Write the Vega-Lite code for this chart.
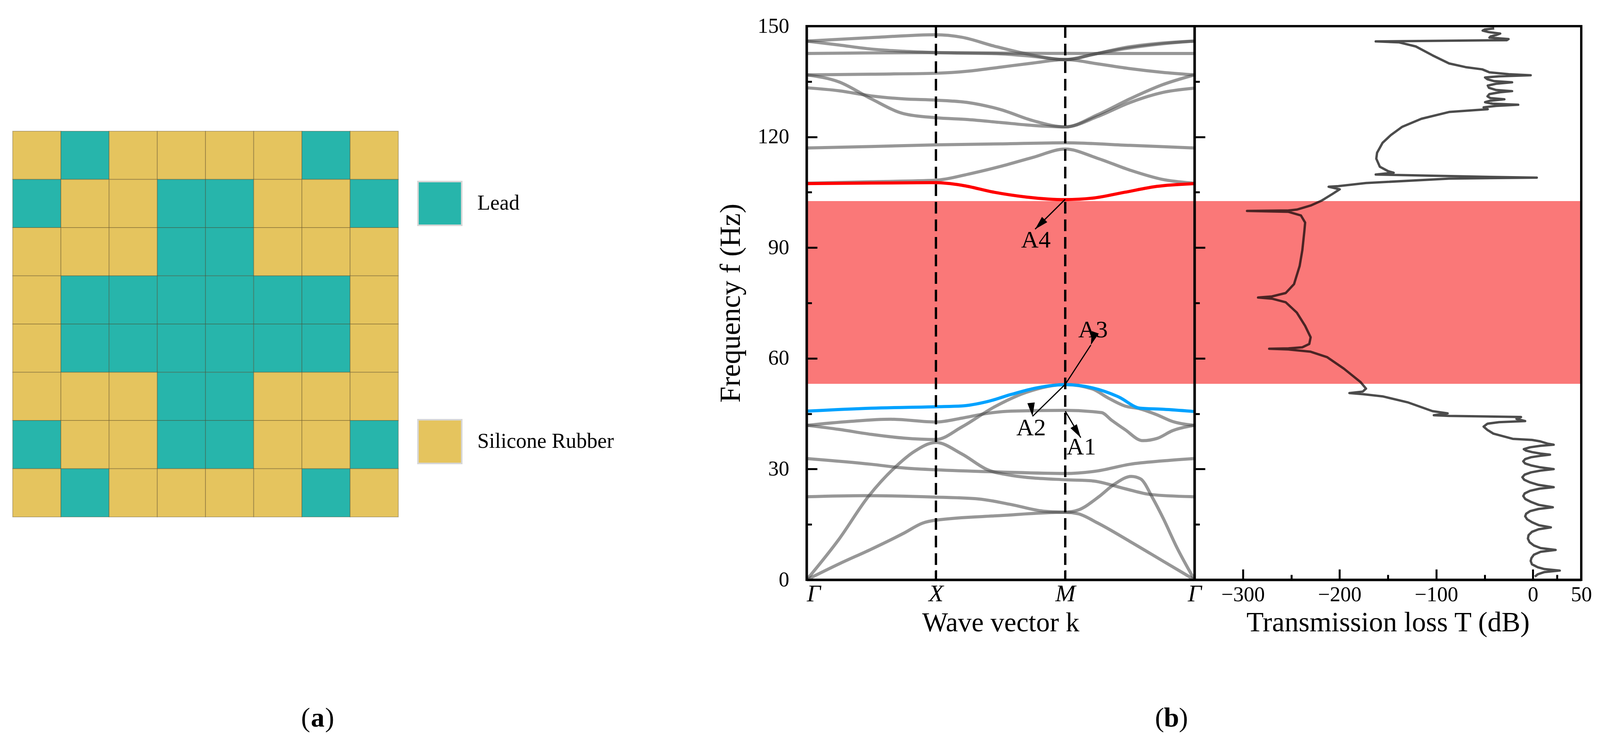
{
  "$schema": "https://vega.github.io/schema/vega-lite/v6.json",
  "padding": {"left": 31, "top": 37, "right": 0, "bottom": 0},
  "background": "white",
  "config": {
    "font": "Liberation Serif",
    "axis": {"labelFont": "Liberation Serif", "titleFont": "Liberation Serif"},
    "legend": {"labelFont": "Liberation Serif"},
    "text": {"font": "Liberation Serif"},
    "style": {"guide-label": {"font": "Liberation Serif"}, "guide-title": {"font": "Liberation Serif"}}
  },
  "bounds": "flush",
  "spacing": 0,
  "resolve": {"scale": {"color": "independent", "angle": "independent"}, "legend": {"color": "independent"}},
  "datasets": {
    "cells": [
      {"row":0,"col":0,"m":"Silicone Rubber"},{"row":0,"col":1,"m":"Lead"},{"row":0,"col":2,"m":"Silicone Rubber"},{"row":0,"col":3,"m":"Silicone Rubber"},{"row":0,"col":4,"m":"Silicone Rubber"},{"row":0,"col":5,"m":"Silicone Rubber"},{"row":0,"col":6,"m":"Lead"},{"row":0,"col":7,"m":"Silicone Rubber"},
      {"row":1,"col":0,"m":"Lead"},{"row":1,"col":1,"m":"Silicone Rubber"},{"row":1,"col":2,"m":"Silicone Rubber"},{"row":1,"col":3,"m":"Lead"},{"row":1,"col":4,"m":"Lead"},{"row":1,"col":5,"m":"Silicone Rubber"},{"row":1,"col":6,"m":"Silicone Rubber"},{"row":1,"col":7,"m":"Lead"},
      {"row":2,"col":0,"m":"Silicone Rubber"},{"row":2,"col":1,"m":"Silicone Rubber"},{"row":2,"col":2,"m":"Silicone Rubber"},{"row":2,"col":3,"m":"Lead"},{"row":2,"col":4,"m":"Lead"},{"row":2,"col":5,"m":"Silicone Rubber"},{"row":2,"col":6,"m":"Silicone Rubber"},{"row":2,"col":7,"m":"Silicone Rubber"},
      {"row":3,"col":0,"m":"Silicone Rubber"},{"row":3,"col":1,"m":"Lead"},{"row":3,"col":2,"m":"Lead"},{"row":3,"col":3,"m":"Lead"},{"row":3,"col":4,"m":"Lead"},{"row":3,"col":5,"m":"Lead"},{"row":3,"col":6,"m":"Lead"},{"row":3,"col":7,"m":"Silicone Rubber"},
      {"row":4,"col":0,"m":"Silicone Rubber"},{"row":4,"col":1,"m":"Lead"},{"row":4,"col":2,"m":"Lead"},{"row":4,"col":3,"m":"Lead"},{"row":4,"col":4,"m":"Lead"},{"row":4,"col":5,"m":"Lead"},{"row":4,"col":6,"m":"Lead"},{"row":4,"col":7,"m":"Silicone Rubber"},
      {"row":5,"col":0,"m":"Silicone Rubber"},{"row":5,"col":1,"m":"Silicone Rubber"},{"row":5,"col":2,"m":"Silicone Rubber"},{"row":5,"col":3,"m":"Lead"},{"row":5,"col":4,"m":"Lead"},{"row":5,"col":5,"m":"Silicone Rubber"},{"row":5,"col":6,"m":"Silicone Rubber"},{"row":5,"col":7,"m":"Silicone Rubber"},
      {"row":6,"col":0,"m":"Lead"},{"row":6,"col":1,"m":"Silicone Rubber"},{"row":6,"col":2,"m":"Silicone Rubber"},{"row":6,"col":3,"m":"Lead"},{"row":6,"col":4,"m":"Lead"},{"row":6,"col":5,"m":"Silicone Rubber"},{"row":6,"col":6,"m":"Silicone Rubber"},{"row":6,"col":7,"m":"Lead"},
      {"row":7,"col":0,"m":"Silicone Rubber"},{"row":7,"col":1,"m":"Lead"},{"row":7,"col":2,"m":"Silicone Rubber"},{"row":7,"col":3,"m":"Silicone Rubber"},{"row":7,"col":4,"m":"Silicone Rubber"},{"row":7,"col":5,"m":"Silicone Rubber"},{"row":7,"col":6,"m":"Lead"},{"row":7,"col":7,"m":"Silicone Rubber"}
    ],
    "gap": [{"lo": 53.1, "hi": 102.6}],
    "sym": [{"k": 1}, {"k": 2}],
    "edge": [{"T": 50}],
    "bands": [
      {"b":"b1","k":0,"f":142.6},{"b":"b1","k":0.5,"f":142.75},{"b":"b1","k":1,"f":142.84},{"b":"b1","k":1.5,"f":142.7},{"b":"b1","k":2,"f":142.62},{"b":"b1","k":2.5,"f":142.6},{"b":"b1","k":3,"f":142.6},
      {"b":"b2","k":0,"f":145.96},{"b":"b2","k":0.5,"f":146.9},{"b":"b2","k":1,"f":147.68},{"b":"b2","k":1.2,"f":147.0},{"b":"b2","k":1.45,"f":144.6},{"b":"b2","k":1.7,"f":142.5},{"b":"b2","k":2,"f":140.95},{"b":"b2","k":2.21,"f":142.3},{"b":"b2","k":2.46,"f":144.2},{"b":"b2","k":2.71,"f":145.3},{"b":"b2","k":3,"f":145.96},
      {"b":"b3","k":0,"f":145.96},{"b":"b3","k":0.25,"f":144.9},{"b":"b3","k":0.5,"f":143.8},{"b":"b3","k":0.75,"f":143.2},{"b":"b3","k":1,"f":142.84},{"b":"b3","k":1.5,"f":142.5},{"b":"b3","k":1.75,"f":141.8},{"b":"b3","k":2,"f":140.95},{"b":"b3","k":2.25,"f":142.6},{"b":"b3","k":2.5,"f":144.1},{"b":"b3","k":2.75,"f":145.2},{"b":"b3","k":3,"f":145.96},
      {"b":"b4","k":0,"f":136.8},{"b":"b4","k":0.5,"f":137.0},{"b":"b4","k":1,"f":137.24},{"b":"b4","k":1.25,"f":137.8},{"b":"b4","k":1.5,"f":138.9},{"b":"b4","k":1.75,"f":140.0},{"b":"b4","k":2,"f":140.95},{"b":"b4","k":2.25,"f":139.8},{"b":"b4","k":2.5,"f":138.5},{"b":"b4","k":2.75,"f":137.5},{"b":"b4","k":3,"f":136.8},
      {"b":"b5","k":0,"f":136.8},{"b":"b5","k":0.25,"f":134.9},{"b":"b5","k":0.5,"f":130.3},{"b":"b5","k":0.75,"f":126.3},{"b":"b5","k":1,"f":125.2},{"b":"b5","k":1.25,"f":124.7},{"b":"b5","k":1.5,"f":123.9},{"b":"b5","k":1.75,"f":123.1},{"b":"b5","k":2,"f":122.7},{"b":"b5","k":2.25,"f":126.0},{"b":"b5","k":2.5,"f":130.3},{"b":"b5","k":2.75,"f":134.1},{"b":"b5","k":3,"f":136.8},
      {"b":"b6","k":0,"f":133.3},{"b":"b6","k":0.25,"f":132.5},{"b":"b6","k":0.5,"f":131.1},{"b":"b6","k":0.75,"f":130.3},{"b":"b6","k":1,"f":129.96},{"b":"b6","k":1.25,"f":129.3},{"b":"b6","k":1.5,"f":127.4},{"b":"b6","k":1.75,"f":124.4},{"b":"b6","k":2,"f":122.7},{"b":"b6","k":2.25,"f":125.5},{"b":"b6","k":2.5,"f":129.3},{"b":"b6","k":2.75,"f":132.0},{"b":"b6","k":3,"f":133.2},
      {"b":"b7","k":0,"f":117.0},{"b":"b7","k":0.5,"f":117.4},{"b":"b7","k":1,"f":117.85},{"b":"b7","k":1.5,"f":118.1},{"b":"b7","k":2,"f":118.4},{"b":"b7","k":2.5,"f":117.7},{"b":"b7","k":3,"f":117.0},
      {"b":"b8","k":0,"f":107.45},{"b":"b8","k":0.5,"f":107.85},{"b":"b8","k":1,"f":108.26},{"b":"b8","k":1.25,"f":109.9},{"b":"b8","k":1.5,"f":112.0},{"b":"b8","k":1.75,"f":114.45},{"b":"b8","k":2,"f":116.7},{"b":"b8","k":2.25,"f":114.2},{"b":"b8","k":2.5,"f":111.0},{"b":"b8","k":2.75,"f":108.5},{"b":"b8","k":3,"f":107.45},
      {"b":"red","k":0,"f":107.34},{"b":"red","k":0.5,"f":107.5},{"b":"red","k":1,"f":107.6},{"b":"red","k":1.2,"f":106.9},{"b":"red","k":1.45,"f":105.0},{"b":"red","k":1.7,"f":103.7},{"b":"red","k":2,"f":103.0},{"b":"red","k":2.21,"f":103.4},{"b":"red","k":2.46,"f":105.0},{"b":"red","k":2.71,"f":106.6},{"b":"red","k":3,"f":107.34},
      {"b":"b9","k":0,"f":0},{"b":"b9","k":0.25,"f":4.3},{"b":"b9","k":0.5,"f":8.3},{"b":"b9","k":0.75,"f":12.6},{"b":"b9","k":0.9,"f":15.4},{"b":"b9","k":1,"f":16.15},{"b":"b9","k":1.5,"f":17.4},{"b":"b9","k":2,"f":18.3},{"b":"b9","k":2.1,"f":17.9},{"b":"b9","k":2.25,"f":15.4},{"b":"b9","k":2.5,"f":10.4},{"b":"b9","k":2.75,"f":5.2},{"b":"b9","k":3,"f":0},
      {"b":"b10","k":0,"f":0},{"b":"b10","k":0.25,"f":11.0},{"b":"b10","k":0.476,"f":22.5},{"b":"b10","k":0.7,"f":31.0},{"b":"b10","k":0.83,"f":34.7},{"b":"b10","k":1,"f":37.2},{"b":"b10","k":1.2,"f":34.1},{"b":"b10","k":1.4,"f":29.8},{"b":"b10","k":1.58,"f":28.3},{"b":"b10","k":2,"f":27.1},{"b":"b10","k":2.21,"f":26.8},{"b":"b10","k":2.46,"f":24.7},{"b":"b10","k":2.66,"f":23.1},{"b":"b10","k":3,"f":22.5},
      {"b":"b11","k":0,"f":22.5},{"b":"b11","k":0.45,"f":22.8},{"b":"b11","k":1,"f":22.4},{"b":"b11","k":1.33,"f":21.9},{"b":"b11","k":1.58,"f":20.4},{"b":"b11","k":1.83,"f":18.6},{"b":"b11","k":2,"f":18.3},{"b":"b11","k":2.1,"f":18.9},{"b":"b11","k":2.26,"f":22.5},{"b":"b11","k":2.38,"f":25.9},{"b":"b11","k":2.51,"f":28.0},{"b":"b11","k":2.58,"f":27.4},{"b":"b11","k":2.68,"f":21.9},{"b":"b11","k":2.76,"f":16.5},{"b":"b11","k":2.86,"f":9.0},{"b":"b11","k":3,"f":0},
      {"b":"b12","k":0,"f":32.85},{"b":"b12","k":0.5,"f":31.3},{"b":"b12","k":0.75,"f":30.3},{"b":"b12","k":1,"f":29.8},{"b":"b12","k":1.5,"f":29.2},{"b":"b12","k":2,"f":28.8},{"b":"b12","k":2.25,"f":29.5},{"b":"b12","k":2.5,"f":31.3},{"b":"b12","k":2.75,"f":32.2},{"b":"b12","k":3,"f":32.85},
      {"b":"b13","k":0,"f":41.85},{"b":"b13","k":0.25,"f":40.75},{"b":"b13","k":0.5,"f":39.4},{"b":"b13","k":0.75,"f":38.4},{"b":"b13","k":1,"f":38.0},{"b":"b13","k":1.2,"f":41.4},{"b":"b13","k":1.45,"f":46.8},{"b":"b13","k":1.7,"f":50.8},{"b":"b13","k":2,"f":52.9},{"b":"b13","k":2.21,"f":51.7},{"b":"b13","k":2.33,"f":49.3},{"b":"b13","k":2.46,"f":47.1},{"b":"b13","k":2.58,"f":46.3},{"b":"b13","k":2.71,"f":44.7},{"b":"b13","k":2.83,"f":42.9},{"b":"b13","k":3,"f":41.85},
      {"b":"b14","k":0,"f":41.85},{"b":"b14","k":0.33,"f":42.9},{"b":"b14","k":0.65,"f":43.5},{"b":"b14","k":1,"f":42.75},{"b":"b14","k":1.2,"f":43.8},{"b":"b14","k":1.38,"f":45.0},{"b":"b14","k":1.58,"f":45.7},{"b":"b14","k":2,"f":45.9},{"b":"b14","k":2.28,"f":45.3},{"b":"b14","k":2.36,"f":43.2},{"b":"b14","k":2.46,"f":40.75},{"b":"b14","k":2.6,"f":37.7},{"b":"b14","k":2.71,"f":38.3},{"b":"b14","k":2.83,"f":40.4},{"b":"b14","k":3,"f":41.85},
      {"b":"blue","k":0,"f":45.7},{"b":"blue","k":0.5,"f":46.5},{"b":"blue","k":1,"f":46.9},{"b":"blue","k":1.2,"f":47.1},{"b":"blue","k":1.4,"f":48.3},{"b":"blue","k":1.58,"f":50.2},{"b":"blue","k":1.78,"f":52.0},{"b":"blue","k":2,"f":52.9},{"b":"blue","k":2.21,"f":52.0},{"b":"blue","k":2.41,"f":49.6},{"b":"blue","k":2.58,"f":46.5},{"b":"blue","k":2.76,"f":46.2},{"b":"blue","k":3,"f":45.6}
    ],
    "arrows": [
      {"id":"A1","k0":2.0,"f0":45.7,"k1":2.12,"f1":38.5},
      {"id":"A2","k0":2.0,"f0":52.95,"k1":1.747,"f1":44.3},
      {"id":"A3","k0":2.0,"f0":52.95,"k1":2.198,"f1":63.6},
      {"id":"A4","k0":2.0,"f0":103.1,"k1":1.767,"f1":95.0}
    ],
    "alabels": [
      {"id":"A1","k":2.124,"f":36.0},
      {"id":"A2","k":1.736,"f":41.2},
      {"id":"A3","k":2.215,"f":67.7},
      {"id":"A4","k":1.773,"f":92.0}
    ],
    "plab": [{"p":"a","k":-3.782,"f":-37.6},{"p":"b","k":2.822,"f":-37.6}],
    "tl": [
      {"f":0.85,"T":2},{"f":1.5,"T":5},{"f":2.1,"T":12},{"f":2.5,"T":27.8},{"f":2.9,"T":12},{"f":3.4,"T":5},{"f":4.2,"T":-1},{"f":5.1,"T":-2.3},{"f":5.9,"T":-1.5},{"f":6.8,"T":1},{"f":7.6,"T":8},{"f":8.1,"T":23.5},{"f":8.6,"T":8},{"f":9.3,"T":1},{"f":10.2,"T":-3.5},{"f":11.15,"T":-5.2},{"f":12.1,"T":-4.5},{"f":13.0,"T":-1},{"f":13.7,"T":6},{"f":14.2,"T":18.6},{"f":14.8,"T":6},{"f":15.6,"T":-1},{"f":16.4,"T":-6},{"f":17.2,"T":-8},{"f":17.9,"T":-7},{"f":18.6,"T":-3},{"f":19.2,"T":6},{"f":19.65,"T":20.6},{"f":20.3,"T":6},{"f":21.1,"T":-2},{"f":21.9,"T":-8},{"f":22.7,"T":-10},{"f":23.4,"T":-8.5},{"f":24.1,"T":-3},{"f":24.7,"T":7},{"f":25.1,"T":21.5},{"f":25.7,"T":6},{"f":26.4,"T":-3},{"f":27.1,"T":-9},{"f":27.8,"T":-10.9},{"f":28.5,"T":-8.5},{"f":29.1,"T":-2},{"f":29.6,"T":8},{"f":30.0,"T":21.5},{"f":30.5,"T":7},{"f":31.0,"T":-2},{"f":31.5,"T":-8},{"f":32.1,"T":-10},{"f":32.7,"T":-8},{"f":33.2,"T":-2},{"f":33.6,"T":8},{"f":33.9,"T":17.7},{"f":34.2,"T":8},{"f":34.6,"T":-1},{"f":35.0,"T":-7},{"f":35.4,"T":-9.4},{"f":35.9,"T":-3},{"f":36.3,"T":8},{"f":36.6,"T":21.5},{"f":36.9,"T":15},{"f":37.5,"T":7.7},{"f":37.9,"T":-0.9},{"f":38.2,"T":-20.9},{"f":39.6,"T":-40.9},{"f":40.6,"T":-47},{"f":41.5,"T":-51},{"f":42.3,"T":-47},{"f":42.7,"T":-35},{"f":43.0,"T":-8},{"f":43.6,"T":-17},{"f":44.1,"T":-12.3},{"f":44.4,"T":-86.7},{"f":44.6,"T":-102.5},{"f":45.1,"T":-88.2},{"f":45.7,"T":-103.9},{"f":48.1,"T":-129.7},{"f":49.7,"T":-155.5},{"f":50.3,"T":-176},{"f":50.6,"T":-189.8},{"f":51.0,"T":-176},{"f":51.8,"T":-172.6},{"f":53.6,"T":-178.4},{"f":57.2,"T":-195.5},{"f":60.3,"T":-212.7},{"f":61.8,"T":-229.9},{"f":62.4,"T":-252.8},{"f":62.6,"T":-272.8},{"f":62.7,"T":-252.8},{"f":63.0,"T":-238.5},{"f":63.9,"T":-231.3},{"f":65.7,"T":-229.9},{"f":68.8,"T":-235.6},{"f":72.4,"T":-244.2},{"f":75.2,"T":-255.7},{"f":76.17,"T":-270},{"f":76.47,"T":-284.3},{"f":76.77,"T":-270},{"f":77.7,"T":-255.7},{"f":80.1,"T":-247.1},{"f":85.0,"T":-241.3},{"f":89.3,"T":-238.5},{"f":94.7,"T":-236.3},{"f":96.8,"T":-235.6},{"f":98.7,"T":-239.9},{"f":99.7,"T":-252.8},{"f":99.95,"T":-295.7},{"f":100.06,"T":-252.8},{"f":100.3,"T":-244.2},{"f":101.4,"T":-229.9},{"f":102.75,"T":-218.4},{"f":104.6,"T":-207},{"f":105.8,"T":-199.8},{"f":106.5,"T":-211.3},{"f":106.65,"T":-201.3},{"f":107.5,"T":-172.6},{"f":108.7,"T":-86.7},{"f":108.95,"T":4},{"f":109.15,"T":-40},{"f":109.5,"T":-110},{"f":109.8,"T":-162.6},{"f":110.3,"T":-144},{"f":110.7,"T":-149.7},{"f":111.9,"T":-158.3},{"f":114.1,"T":-162},{"f":115.7,"T":-161.2},{"f":118.4,"T":-155.5},{"f":120.5,"T":-146.9},{"f":122.7,"T":-135.4},{"f":124.9,"T":-115.4},{"f":126.75,"T":-86.7},{"f":127.5,"T":-46.7},{"f":128.0,"T":-51},{"f":128.4,"T":-38},{"f":128.7,"T":-15.2},{"f":129.0,"T":-42},{"f":129.4,"T":-49.5},{"f":129.8,"T":-44},{"f":130.2,"T":-29.5},{"f":130.5,"T":-44},{"f":131.0,"T":-47},{"f":131.6,"T":-45},{"f":132.1,"T":-34},{"f":132.4,"T":-21.5},{"f":132.7,"T":-38},{"f":133.3,"T":-45.5},{"f":133.9,"T":-46.7},{"f":134.4,"T":-38},{"f":134.8,"T":-21.5},{"f":135.1,"T":-40},{"f":135.6,"T":-47},{"f":136.1,"T":-49.5},{"f":136.4,"T":-35},{"f":136.7,"T":-2.3},{"f":137.0,"T":-25},{"f":137.5,"T":-45},{"f":138.3,"T":-52.4},{"f":138.9,"T":-69.6},{"f":139.9,"T":-86.7},{"f":142.1,"T":-103.9},{"f":144.5,"T":-121.1},{"f":145.6,"T":-138.3},{"f":145.87,"T":-162.6},{"f":146.2,"T":-27},{"f":146.5,"T":-25.2},{"f":146.9,"T":-45},{"f":147.2,"T":-43.8},{"f":147.6,"T":-38},{"f":148.0,"T":-33.8},{"f":148.4,"T":-46},{"f":148.8,"T":-52},{"f":149.1,"T":-50},{"f":149.4,"T":-40}
    ]
  },
  "hconcat": [
    {
      "width": 2033,
      "height": 1418,
      "view": {"stroke": null},
      "data": {"name": "cells"},
      "mark": {"type": "rect", "stroke": "#4a3c20", "strokeOpacity": 0.35, "strokeWidth": 2},
      "encoding": {
        "x": {"field": "col", "type": "quantitative", "bin": {"binned": true, "step": 1}, "axis": null, "scale": {"domain": [0, 16.475], "nice": false, "zero": false}},
        "y": {"field": "row", "type": "quantitative", "bin": {"binned": true, "step": 1}, "axis": null, "scale": {"domain": [-2.174, 9.308], "nice": false, "zero": false, "reverse": true}},
        "color": {
          "field": "m", "type": "nominal",
          "scale": {"domain": ["Lead", "Silicone Rubber"], "range": ["#27B5AB", "#E5C45E"]},
          "legend": {"title": null, "orient": "none", "legendX": 1036, "legendY": 396, "symbolType": "square", "symbolSize": 12544, "symbolStrokeColor": "#d6d6d6", "symbolStrokeWidth": 4, "symbolOpacity": 1, "rowPadding": 482, "labelFont": "Liberation Serif", "labelFontSize": 54, "labelColor": "black", "labelOffset": 38, "labelLimit": 1000, "padding": 0}
        }
      }
    },
    {
      "width": 993,
      "height": 1418,
      "view": {"stroke": "black", "strokeWidth": 6},
      "layer": [
        {
          "data": {"name": "gap"},
          "mark": {"type": "rect", "color": "#FA7878"},
          "encoding": {
            "x": {"datum": 0, "type": "quantitative"},
            "x2": {"datum": 3},
            "y": {"field": "lo", "type": "quantitative"},
            "y2": {"field": "hi"}
          }
        },
        {
          "data": {"name": "bands"},
          "transform": [{"filter": "datum.b !== 'red' && datum.b !== 'blue'"}],
          "mark": {"type": "line", "color": "#484848", "opacity": 0.57, "strokeWidth": 8, "interpolate": "monotone"},
          "encoding": {
            "x": {"field": "k", "type": "quantitative", "scale": {"domain": [0, 3], "nice": false, "zero": false},
              "axis": {"title": "Wave vector k", "values": [0, 1, 2, 3], "labelExpr": "['Γ','X','M','Γ'][datum.value]", "labelFont": "Liberation Serif", "labelFontStyle": "italic", "labelFontSize": 62, "labelColor": "black", "labelFlush": false, "labelAlign": {"condition": {"test": "datum.value === 0", "value": "left"}, "value": "center"}, "tickSize": -25, "tickWidth": 5, "tickColor": "black", "labelPadding": 30, "domainWidth": 6, "domainColor": "black", "titleFont": "Liberation Serif", "titleFontSize": 70, "titleFontWeight": "normal", "titleColor": "black", "titlePadding": 10, "grid": false, "zindex": 1}},
            "y": {"field": "f", "type": "quantitative", "scale": {"domain": [0, 150], "nice": false, "zero": false},
              "axis": {"title": "Frequency f (Hz)", "values": [0, 15, 30, 45, 60, 75, 90, 105, 120, 135, 150], "labelExpr": "datum.value % 30 === 0 ? datum.label : ''", "tickSize": {"condition": {"test": "datum.value % 30 === 0", "value": -27}, "value": -13}, "tickWidth": 5, "tickColor": "black", "labelFont": "Liberation Serif", "labelFontSize": 54, "labelColor": "black", "labelPadding": 72, "domainWidth": 6, "domainColor": "black", "titleFont": "Liberation Serif", "titleFontSize": 74, "titleFontWeight": "normal", "titleColor": "black", "titlePadding": 30, "grid": false, "zindex": 1}},
            "detail": {"field": "b"}
          }
        },
        {
          "data": {"name": "bands"},
          "transform": [{"filter": "datum.b === 'blue'"}],
          "mark": {"type": "line", "color": "#00A2FF", "strokeWidth": 8, "interpolate": "monotone"},
          "encoding": {
            "x": {"field": "k", "type": "quantitative"},
            "y": {"field": "f", "type": "quantitative"}
          }
        },
        {
          "data": {"name": "bands"},
          "transform": [{"filter": "datum.b === 'red'"}],
          "mark": {"type": "line", "color": "#FF0000", "strokeWidth": 8, "interpolate": "monotone"},
          "encoding": {
            "x": {"field": "k", "type": "quantitative"},
            "y": {"field": "f", "type": "quantitative"}
          }
        },
        {
          "data": {"name": "sym"},
          "mark": {"type": "rule", "color": "black", "strokeWidth": 6, "strokeDash": [30, 15]},
          "encoding": {"x": {"field": "k", "type": "quantitative"}}
        },
        {
          "data": {"name": "arrows"},
          "mark": {"type": "rule", "color": "black", "strokeWidth": 3},
          "encoding": {
            "x": {"field": "k0", "type": "quantitative"},
            "y": {"field": "f0", "type": "quantitative"},
            "x2": {"field": "k1"},
            "y2": {"field": "f1"}
          }
        },
        {
          "data": {"name": "arrows"},
          "mark": {"type": "point", "shape": "M0,0L0.55,2L-0.55,2Z", "filled": true, "color": "black", "opacity": 1, "size": 1200},
          "encoding": {
            "x": {"field": "k1", "type": "quantitative"},
            "y": {"field": "f1", "type": "quantitative"},
            "angle": {"field": "id", "type": "nominal", "scale": {"domain": ["A1", "A2", "A3", "A4"], "range": [148.3, 224.7, 34.1, 225]}, "legend": null}
          }
        },
        {
          "data": {"name": "alabels"},
          "mark": {"type": "text", "font": "Liberation Serif", "fontSize": 62, "color": "black", "align": "center", "baseline": "middle"},
          "encoding": {
            "x": {"field": "k", "type": "quantitative"},
            "y": {"field": "f", "type": "quantitative"},
            "text": {"field": "id"}
          }
        },
        {
          "data": {"name": "plab"},
          "mark": {"type": "text", "font": "Liberation Serif", "fontSize": 70, "fontWeight": "bold", "color": "black", "align": "center", "baseline": "middle"},
          "encoding": {
            "x": {"field": "k", "type": "quantitative"},
            "y": {"field": "f", "type": "quantitative"},
            "text": {"field": "p"}
          }
        },
        {
          "data": {"name": "plab"},
          "mark": {"type": "text", "font": "Liberation Serif", "fontSize": 70, "color": "black", "align": "right", "baseline": "middle", "dx": -19, "text": "("},
          "encoding": {
            "x": {"field": "k", "type": "quantitative"},
            "y": {"field": "f", "type": "quantitative"}
          }
        },
        {
          "data": {"name": "plab"},
          "mark": {"type": "text", "font": "Liberation Serif", "fontSize": 70, "color": "black", "align": "left", "baseline": "middle", "dx": 19, "text": ")"},
          "encoding": {
            "x": {"field": "k", "type": "quantitative"},
            "y": {"field": "f", "type": "quantitative"}
          }
        }
      ]
    },
    {
      "width": 990,
      "height": 1418,
      "view": {"stroke": "black", "strokeWidth": 6},
      "layer": [
        {
          "data": {"name": "gap"},
          "mark": {"type": "rect", "color": "#FA7878"},
          "encoding": {
            "x": {"datum": -350, "type": "quantitative"},
            "x2": {"datum": 50},
            "y": {"field": "lo", "type": "quantitative"},
            "y2": {"field": "hi"}
          }
        },
        {
          "data": {"name": "tl"},
          "mark": {"type": "line", "color": "black", "opacity": 0.7, "strokeWidth": 6, "interpolate": "linear", "strokeJoin": "round"},
          "encoding": {
            "x": {"field": "T", "type": "quantitative", "scale": {"domain": [-350, 50], "nice": false, "zero": false},
              "axis": {"title": "Transmission loss T (dB)", "values": [-300, -250, -200, -150, -100, -50, 0, 25, 50], "labelExpr": "indexof([-250,-150,-50,25], datum.value) >= 0 ? '' : datum.label", "tickSize": {"condition": {"test": "indexof([-250,-150,-50,25], datum.value) >= 0", "value": -13}, "value": -27}, "tickWidth": 5, "tickColor": "black", "labelFont": "Liberation Serif", "labelFontSize": 54, "labelColor": "black", "labelFlush": false, "labelPadding": 38, "domainWidth": 6, "domainColor": "black", "titleFont": "Liberation Serif", "titleFontSize": 72, "titleFontWeight": "normal", "titleColor": "black", "titlePadding": 9, "grid": false, "zindex": 1}},
            "y": {"field": "f", "type": "quantitative", "scale": {"domain": [0, 150], "nice": false, "zero": false},
              "axis": {"title": null, "labels": false, "values": [0, 15, 30, 45, 60, 75, 90, 105, 120, 135, 150], "tickSize": {"condition": {"test": "datum.value % 30 === 0", "value": -27}, "value": -13}, "tickWidth": 5, "tickColor": "black", "domainWidth": 6, "domainColor": "black", "grid": false, "zindex": 1}},
            "order": {"field": "f", "type": "quantitative"}
          }
        },
        {
          "data": {"name": "edge"},
          "mark": {"type": "rule", "color": "black", "strokeWidth": 6},
          "encoding": {"x": {"field": "T", "type": "quantitative"}}
        }
      ]
    }
  ]
}
